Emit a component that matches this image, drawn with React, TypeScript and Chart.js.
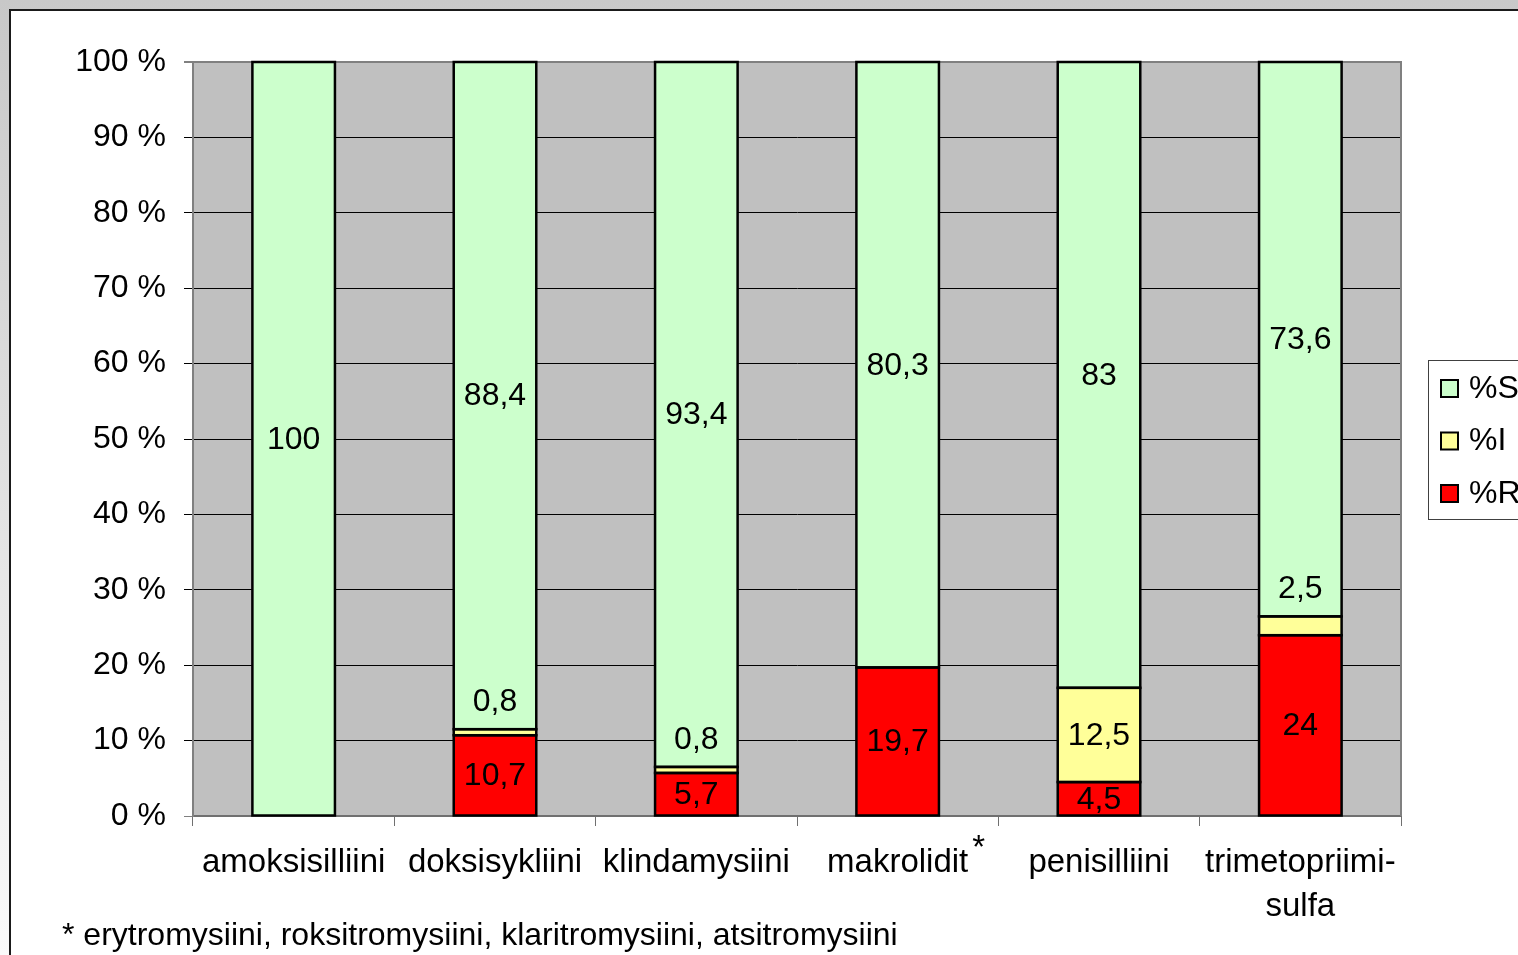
import React, { useEffect, useRef } from "react";
import { Chart, registerables } from "chart.js";

Chart.register(...registerables);

const categories: (string | string[])[] = [
  "amoksisilliini",
  "doksisykliini",
  "klindamysiini",
  "makrolidit",
  "penisilliini",
  ["trimetopriimi-", "sulfa"],
];
const seriesS = [100, 88.4, 93.4, 80.3, 83, 73.6];
const seriesI = [0, 0.8, 0.8, 0, 12.5, 2.5];
const seriesR = [0, 10.7, 5.7, 19.7, 4.5, 24];
const yTicks = [0, 10, 20, 30, 40, 50, 60, 70, 80, 90, 100];
const legendLabels = ["%S", "%I", "%R"];
const footnote = "* erytromysiini, roksitromysiini, klaritromysiini, atsitromysiini";

const FONT = '"Liberation Sans", Arial, sans-serif';
const FS = 32;
const FX = 33;

const sums = seriesS.map((s, i) => s + seriesI[i] + seriesR[i]);
const pct = (arr: number[]) => arr.map((v, i) => (v / sums[i]) * 100);

const COLORS = { S: "#CCFFCC", I: "#FFFF99", R: "#FF0000" };

const fmt = (v: number) => String(v).replace(".", ",");

const decorPlugin = {
  id: "decor",
  beforeDraw(chart: any) {
    const { ctx, chartArea: a } = chart;
    ctx.save();
    ctx.fillStyle = "#C0C0C0";
    ctx.fillRect(a.left, a.top, a.right - a.left, a.bottom - a.top);
    ctx.restore();
  },
  beforeDatasetsDraw(chart: any) {
    const { ctx, chartArea: a } = chart;
    ctx.save();
    ctx.strokeStyle = "#808080";
    ctx.lineWidth = 2;
    ctx.beginPath();
    ctx.moveTo(a.right, a.top - 1);
    ctx.lineTo(a.right, a.bottom);
    ctx.stroke();
    ctx.restore();
  },
  afterDatasetsDraw(chart: any) {
    const { ctx } = chart;
    ctx.save();
    // segment outlines (shared edges between stacked segments)
    ctx.strokeStyle = "#000";
    ctx.lineWidth = 2.5;
    chart.data.datasets.forEach((ds: any, di: number) => {
      const meta = chart.getDatasetMeta(di);
      meta.data.forEach((bar: any, i: number) => {
        if (!ds.rawValues[i]) return;
        const top = Math.min(bar.y, bar.base);
        const bottom = Math.max(bar.y, bar.base);
        ctx.strokeRect(bar.x - bar.width / 2, top, bar.width, bottom - top);
      });
    });
    // value labels
    ctx.font = `${FS}px ${FONT}`;
    ctx.fillStyle = "#000";
    ctx.textAlign = "center";
    ctx.textBaseline = "middle";
    chart.data.datasets.forEach((ds: any, di: number) => {
      const meta = chart.getDatasetMeta(di);
      meta.data.forEach((bar: any, i: number) => {
        const raw = ds.rawValues[i];
        if (!raw) return;
        const top = Math.min(bar.y, bar.base);
        const bottom = Math.max(bar.y, bar.base);
        const h = bottom - top;
        const y = h >= 26 ? (top + bottom) / 2 : top - 28;
        ctx.fillText(fmt(raw), bar.x, y + 1);
      });
    });
    ctx.restore();
  },
  afterDraw(chart: any) {
    const { ctx } = chart;
    const xs = chart.scales.x;
    ctx.save();
    ctx.font = `${FX}px ${FONT}`;
    ctx.fillStyle = "#000";
    // asterisk after "makrolidit"
    const cx = xs.getPixelForValue(3);
    const w = ctx.measureText(categories[3] as string).width;
    ctx.textAlign = "left";
    ctx.textBaseline = "alphabetic";
    ctx.fillText("*", cx + w / 2 + 4, 858);
    // footnote
    ctx.font = `${FS}px ${FONT}`;
    ctx.textBaseline = "middle";
    ctx.fillText(footnote, 62, 936);
    // legend
    const lx = 1428, ly = 360;
    ctx.strokeStyle = "#404040";
    ctx.lineWidth = 1;
    ctx.strokeRect(lx + 0.5, ly + 0.5, 200, 159);
    const legendColors = [COLORS.S, COLORS.I, COLORS.R];
    legendLabels.forEach((lab, i) => {
      const cy = 388 + i * 52.5;
      ctx.fillStyle = legendColors[i];
      ctx.fillRect(lx + 13, cy - 8, 17, 17);
      ctx.strokeStyle = "#000";
      ctx.lineWidth = 2;
      ctx.strokeRect(lx + 13, cy - 8, 17, 17);
      ctx.fillStyle = "#000";
      ctx.textBaseline = "middle";
      ctx.fillText(lab, lx + 41, cy + 1);
    });
    ctx.restore();
  },
};

export default function App() {
  const ref = useRef<HTMLCanvasElement>(null);

  useEffect(() => {
    if (!ref.current) return;
    const mk = (label: string, raw: number[], color: string) =>
      ({
        label,
        data: pct(raw),
        rawValues: raw,
        backgroundColor: color,
        borderWidth: 0,
      } as any);
    const chart = new Chart(ref.current, {
      type: "bar",
      data: {
        labels: categories as any,
        datasets: [
          mk("%R", seriesR, COLORS.R),
          mk("%I", seriesI, COLORS.I),
          mk("%S", seriesS, COLORS.S),
        ],
      },
      options: {
        responsive: false,
        animation: false,
        devicePixelRatio: 1,
        layout: { padding: { top: 62, right: 117, left: 0, bottom: 0 } },
        plugins: { legend: { display: false }, tooltip: { enabled: false } },
        datasets: { bar: { categoryPercentage: 1, barPercentage: 0.41 } },
        scales: {
          x: {
            stacked: true,
            offset: true,
            grid: {
              offset: true,
              drawOnChartArea: false,
              drawTicks: true,
              tickLength: 10,
              color: "#707070",
              lineWidth: 1,
            },
            border: { color: "#707070", width: 2 },
            ticks: {
              color: "#000",
              padding: 15,
              maxRotation: 0,
              autoSkip: false,
              font: { family: FONT, size: FX, lineHeight: 1.34 },
            },
            afterFit(scale: any) {
              scale.height = 139;
            },
          },
          y: {
            stacked: true,
            min: 0,
            max: 100,
            afterBuildTicks(scale: any) {
              scale.ticks = yTicks.map((v) => ({ value: v }));
            },
            grid: {
              color: (c: any) => (c.tick && (c.tick.value === 100 || c.tick.value === 0) ? "#808080" : "#000"),
              lineWidth: (c: any) => (c.tick && c.tick.value === 100 ? 2 : 1),
              tickLength: 9,
            },
            border: { color: "#808080", width: 2 },
            ticks: {
              color: "#000",
              padding: 18,
              font: { family: FONT, size: FS },
              callback: (v: any) => `${v} %`,
            },
            afterFit(scale: any) {
              scale.width = 193;
            },
          },
        },
      } as any,
      plugins: [decorPlugin],
    });
    return () => chart.destroy();
  }, []);

  return (
    <div
      style={{
        position: "fixed",
        left: 0,
        top: 0,
        width: 1518,
        height: 955,
        overflow: "hidden",
        background: "linear-gradient(#c8c8c8, #fafafa)",
      }}
    >
      <div
        style={{
          position: "absolute",
          left: 9,
          top: 9,
          width: 1700,
          height: 1100,
          background: "#fff",
          borderLeft: "2px solid #1a1a1a",
          borderTop: "2px solid #1a1a1a",
        }}
      />
      <canvas
        ref={ref}
        width={1518}
        height={955}
        style={{ position: "absolute", left: 0, top: 0, width: 1518, height: 955 }}
      />
    </div>
  );
}
